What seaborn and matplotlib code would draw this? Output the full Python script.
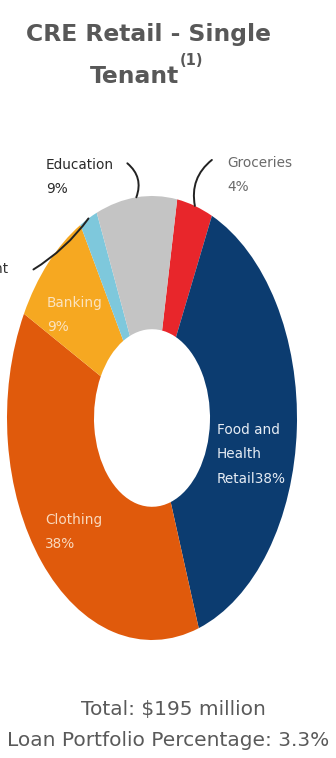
import matplotlib
matplotlib.use("Agg")
import matplotlib.pyplot as plt
import numpy as np
import seaborn as sns

# Portfolio breakdown by tenant type (share of CRE retail single-tenant loans)
categories = ["Groceries", "Food and Health Retail", "Clothing", "Banking",
              "Entertainment", "Education"]
shares = [4, 38, 38, 9, 2, 9]
colors = ["#E8262B", "#0C3C70", "#E05A0C", "#F6A821", "#7EC8DC", "#C4C4C4"]

title_lines = ["CRE Retail - Single", "Tenant"]
footer_lines = ["Total: $195 million", "Loan Portfolio Percentage: 3.3%"]

sns.set_theme(style="white")
plt.rcParams["font.family"] = ["DejaVu Sans"]

W, H = 336, 758
fig = plt.figure(figsize=(W / 100, H / 100), dpi=100)
fig.patch.set_facecolor("white")


def fx(px):
    return px / W


def fy(py):
    return 1 - py / H


# Donut axes (stretched vertically, aspect left free)
ax = fig.add_axes([fx(7), fy(640), fx(297) - fx(7), fy(196) - fy(640)])
wedges, _ = ax.pie(shares, colors=colors, startangle=80, counterclock=False,
                   radius=1.0, wedgeprops=dict(width=0.6, linewidth=0))
ax.set_aspect("auto")
ax.set_xlim(-1, 1)
ax.set_ylim(-1, 1)
ax.axis("off")


def edge_point(w):
    ang = np.deg2rad((w.theta1 + w.theta2) / 2)
    return np.cos(ang), np.sin(ang)


# Leader lines for the outside labels
leaders = {"Education": ((-9, 34), "arc3,rad=-0.35"),
           "Groceries": ((17, 46), "arc3,rad=0.3"),
           "Entertainment": ((-55, -51), "arc3,rad=0.1")}
for w, name in zip(wedges, categories):
    if name in leaders:
        off, cs = leaders[name]
        ax.annotate("", xy=edge_point(w), xycoords="data",
                    xytext=off, textcoords="offset pixels",
                    arrowprops=dict(arrowstyle="-", color="#222222", lw=1.4,
                                    connectionstyle=cs, shrinkA=0, shrinkB=0))

pct = dict(zip(categories, shares))
lab_kw = dict(fontsize=9.8, ha="left", va="top", linespacing=1.95)

fig.text(fx(46), fy(158), f"Education\n{pct['Education']}%", color="#2A2A2A", **lab_kw)
fig.text(fx(227), fy(156), f"Groceries\n{pct['Groceries']}%", color="#6A6A6A", **lab_kw)
fig.text(fx(9), fy(262), "Entertainment", color="#333333", fontsize=9.8,
         ha="right", va="top")
fig.text(fx(47), fy(296), f"Banking\n{pct['Banking']}%", color="#FBE3C0", **lab_kw)
fig.text(fx(217), fy(423), f"Food and\nHealth\nRetail{pct['Food and Health Retail']}%",
         color="#E6ECF4", **lab_kw)
fig.text(fx(45), fy(513), f"Clothing\n{pct['Clothing']}%", color="#F9D9BE", **lab_kw)

# Title
fig.text(fx(149), fy(41), title_lines[0], fontsize=16.9, fontweight="bold",
         color="#585858", ha="center", va="baseline")
t2 = fig.text(fx(134), fy(83), title_lines[1], fontsize=16.9, fontweight="bold",
              color="#585858", ha="center", va="baseline")
fig.canvas.draw()
fig.text(t2.get_window_extent().x1 / W + 0.003, fy(53), "(1)", fontsize=10.5,
         fontweight="bold", color="#585858", ha="left", va="top")

# Footer
fig.text(fx(173), fy(715), footer_lines[0], fontsize=14.5, color="#5A5A5A",
         ha="center", va="baseline")
fig.text(fx(168), fy(746), footer_lines[1], fontsize=14.5, color="#5A5A5A",
         ha="center", va="baseline")

fig.savefig("out.png", dpi=100, facecolor="white")
